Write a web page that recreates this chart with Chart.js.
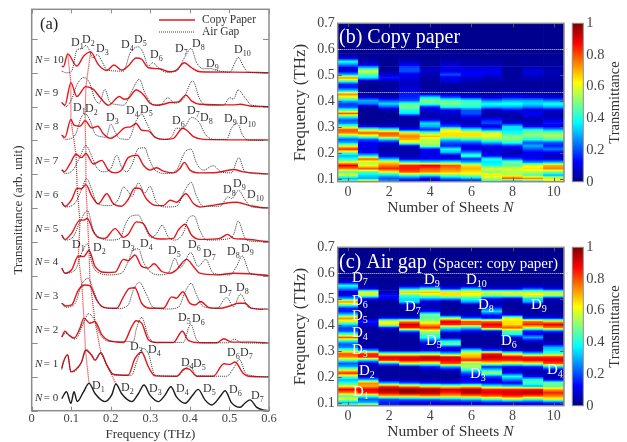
<!DOCTYPE html>
<html>
<head>
<meta charset="utf-8">
<title>Transmittance</title>
<script src="https://cdn.jsdelivr.net/npm/chart.js@4"></script>
<style>
  html, body { margin: 0; background: #fff; }
  #page { position: relative; width: 627px; height: 442px; overflow: hidden; }
  canvas { position: absolute; filter: blur(0.4px); }
</style>
</head>
<body>
<div id="page">
  <canvas id="panelA"></canvas>
  <canvas id="panelB"></canvas>
  <canvas id="barB"></canvas>
  <canvas id="panelC"></canvas>
  <canvas id="barC"></canvas>
</div>
<script>
// (a) spectra, pairs of [frequency THz, height above the N baseline]
const copy0 = [[.076,.36],[.088,.56],[.099,.22],[.107,.56],[.115,.27],[.131,.56],[.145,.81],[.16,.51],[.185,.27],[.202,.46],[.213,.79],[.227,.51],[.253,.27],[.27,.51],[.284,.76],[.299,.46],[.32,.27],[.337,.46],[.352,.71],[.366,.41],[.388,.22],[.407,.46],[.421,.63],[.438,.32],[.455,.17],[.476,.41],[.489,.59],[.505,.24],[.527,.1],[.539,.22],[.552,.32],[.569,.1],[.585,.02],[.6,0]];
const copy1 = [[.076,.25],[.08,.44],[.091,.66],[.099,.15],[.114,.25],[.126,.44],[.136,.79],[.152,.64],[.16,.49],[.175,.72],[.19,.35],[.206,.08],[.244,.05],[.261,.54],[.278,.73],[.295,.3],[.312,.03],[.366,.02],[.388,.25],[.4,.22],[.417,.02],[.459,.02],[.486,.39],[.501,.37],[.514,.44],[.535,.1],[.548,.02],[.6,0]];
const air1 = [[.076,.22],[.08,.41],[.091,.64],[.099,.15],[.115,.22],[.126,.44],[.139,.81],[.16,.51],[.173,.71],[.19,.35],[.211,.05],[.253,.05],[.265,.44],[.282,.84],[.295,.69],[.312,.05],[.366,.02],[.4,.32],[.417,.03],[.493,.02],[.51,.25],[.525,.52],[.543,.08],[.6,0]];
const copy2 = [[.076,.18],[.084,.35],[.093,.25],[.107,.15],[.122,.44],[.132,.74],[.147,.59],[.16,.64],[.177,.25],[.194,.08],[.232,.02],[.253,.49],[.264,.66],[.278,.59],[.295,.1],[.316,.02],[.358,.02],[.381,.35],[.396,.08],[.425,.01],[.468,.01],[.486,.13],[.505,.03],[.56,.03],[.6,0]];
const air2 = [[.076,.18],[.086,.3],[.093,.25],[.11,.12],[.131,.59],[.143,.87],[.156,.74],[.173,.25],[.198,.05],[.257,.05],[.265,.44],[.278,.76],[.295,.2],[.312,.02],[.383,.02],[.402,.56],[.417,.1],[.434,.01],[.497,.01],[.512,.12],[.531,.01],[.6,0]];
const copy3 = [[.076,.18],[.086,.1],[.101,.13],[.118,.57],[.135,.72],[.147,.7],[.164,.28],[.181,.06],[.215,.03],[.232,.37],[.247,.62],[.261,.64],[.278,.18],[.299,.03],[.333,.03],[.354,.37],[.366,.33],[.382,.52],[.4,.18],[.413,.13],[.427,.23],[.447,.06],[.476,.03],[.501,.1],[.522,.18],[.539,.18],[.556,.03],[.6,0]];
const air3 = [[.076,.18],[.086,.06],[.11,.18],[.126,.72],[.143,.92],[.156,.57],[.173,.13],[.215,.02],[.244,.13],[.257,.57],[.272,.8],[.291,.42],[.307,.06],[.341,.01],[.371,.06],[.388,.52],[.403,.77],[.417,.42],[.434,.08],[.468,.03],[.493,.35],[.51,.08],[.528,.45],[.548,.06],[.6,0]];
const copy4 = [[.076,.22],[.084,.07],[.101,.17],[.118,.58],[.131,.56],[.145,.74],[.16,.27],[.19,.09],[.211,.1],[.232,.48],[.244,.44],[.261,.61],[.278,.27],[.295,.22],[.309,.35],[.329,.12],[.35,.07],[.366,.17],[.392,.48],[.409,.27],[.425,.07],[.468,.02],[.51,.07],[.594,.01],[.6,0]];
const air4 = [[.076,.22],[.084,.07],[.11,.17],[.126,.66],[.141,.94],[.152,.37],[.164,.12],[.198,.02],[.227,.07],[.244,.41],[.257,.76],[.27,.79],[.282,.41],[.299,.12],[.324,.02],[.345,.07],[.362,.51],[.375,.22],[.383,.32],[.402,.68],[.421,.27],[.44,.48],[.459,.07],[.501,.02],[.518,.27],[.532,.58],[.552,.07],[.6,0]];
const copy5 = [[.076,.2],[.084,.07],[.101,.25],[.122,.64],[.131,.64],[.141,.69],[.156,.3],[.168,.13],[.185,.1],[.211,.39],[.232,.13],[.244,.22],[.265,.59],[.282,.54],[.299,.2],[.324,.08],[.358,.1],[.371,.35],[.388,.52],[.404,.2],[.425,.07],[.476,.1],[.495,.22],[.51,.1],[.535,.08],[.585,.02],[.6,0]];
const air5 = [[.076,.2],[.084,.05],[.105,.15],[.122,.59],[.141,.92],[.156,.34],[.168,.15],[.198,.05],[.224,.1],[.236,.49],[.249,.74],[.27,.79],[.282,.54],[.303,.12],[.316,.25],[.33,.49],[.345,.15],[.36,.05],[.383,.25],[.396,.69],[.41,.77],[.425,.34],[.442,.05],[.493,.08],[.51,.2],[.522,.61],[.539,.12],[.552,.02],[.6,0]];
const copy6 = [[.076,.17],[.084,.05],[.101,.25],[.115,.58],[.126,.57],[.137,.69],[.152,.35],[.168,.12],[.19,.42],[.206,.13],[.227,.05],[.244,.25],[.261,.59],[.274,.57],[.291,.25],[.316,.07],[.333,.07],[.35,.23],[.366,.17],[.39,.42],[.409,.13],[.425,.03],[.468,.1],[.518,.17],[.552,.07],[.594,0],[.6,0]];
const air6 = [[.076,.17],[.084,.03],[.11,.15],[.126,.54],[.139,.87],[.152,.54],[.166,.13],[.198,.07],[.219,.25],[.232,.62],[.244,.49],[.253,.34],[.27,.74],[.286,.44],[.299,.64],[.316,.15],[.341,.03],[.366,.05],[.388,.54],[.403,.76],[.417,.34],[.434,.05],[.476,.05],[.497,.33],[.505,.28],[.523,.52],[.539,.25],[.556,.03],[.6,0]];
const copy7 = [[.076,.14],[.082,.07],[.097,.31],[.112,.59],[.126,.49],[.137,.61],[.156,.3],[.177,.41],[.194,.12],[.211,.04],[.227,.12],[.244,.49],[.267,.56],[.282,.27],[.299,.12],[.316,.19],[.333,.09],[.358,.04],[.375,.17],[.386,.35],[.4,.12],[.425,.04],[.468,.05],[.51,.14],[.535,.07],[.594,.01],[.6,0]];
const air7 = [[.076,.12],[.084,.02],[.104,.12],[.122,.51],[.137,.85],[.149,.61],[.163,.22],[.181,.07],[.2,.17],[.215,.56],[.227,.22],[.24,.07],[.253,.27],[.27,.76],[.286,.78],[.295,.51],[.312,.12],[.341,.02],[.366,.12],[.388,.66],[.403,.74],[.417,.32],[.434,.12],[.459,.25],[.48,.06],[.505,.04],[.524,.49],[.539,.07],[.6,0]];
const copy8 = [[.076,.16],[.084,.09],[.099,.62],[.107,.45],[.122,.42],[.135,.58],[.152,.37],[.167,.42],[.181,.2],[.198,.06],[.215,.16],[.236,.38],[.25,.4],[.264,.5],[.278,.3],[.295,.28],[.312,.09],[.333,.03],[.358,.06],[.382,.36],[.392,.3],[.409,.11],[.434,.03],[.594,.01],[.6,0]];
const air8 = [[.076,.16],[.084,.03],[.11,.16],[.126,.7],[.136,.78],[.147,.6],[.16,.2],[.177,.11],[.188,.09],[.2,.48],[.211,.25],[.222,.06],[.244,.03],[.265,.6],[.278,.78],[.291,.5],[.307,.16],[.333,.03],[.354,.11],[.366,.36],[.383,.36],[.404,.68],[.424,.52],[.438,.2],[.459,.03],[.493,.03],[.505,.36],[.52,.5],[.533,.16],[.548,.01],[.6,0]];
const copy9 = [[.076,.12],[.084,.04],[.099,.71],[.114,.3],[.137,.59],[.156,.51],[.173,.27],[.194,.04],[.222,.3],[.233,.22],[.244,.24],[.264,.49],[.282,.36],[.299,.1],[.316,.04],[.333,.07],[.35,.12],[.371,.14],[.39,.34],[.404,.17],[.425,.07],[.51,.05],[.527,.07],[.552,.02],[.6,0]];
const air9 = [[.076,.12],[.086,0],[.101,.22],[.115,.66],[.132,.86],[.146,.71],[.16,.22],[.171,.1],[.185,.51],[.198,.12],[.211,.07],[.232,.04],[.253,.46],[.272,.81],[.286,.41],[.303,.1],[.324,.04],[.344,.26],[.362,.1],[.383,.22],[.407,.76],[.425,.22],[.442,.04],[.484,.04],[.501,.26],[.51,.22],[.522,.49],[.539,.27],[.556,.04],[.6,0]];
const copy10 = [[.076,.2],[.08,.18],[.091,.56],[.114,.2],[.131,.49],[.149,.62],[.168,.25],[.19,.07],[.208,.23],[.227,.08],[.244,.2],[.264,.44],[.278,.4],[.295,.15],[.323,.12],[.35,.03],[.366,.08],[.386,.3],[.404,.15],[.425,.03],[.51,.02],[.6,0]];
const air10 = [[.076,.05],[.088,0],[.101,.05],[.115,.69],[.126,.71],[.137,.81],[.147,.64],[.154,.44],[.166,.54],[.177,.35],[.191,.08],[.232,.05],[.249,.59],[.27,.77],[.282,.59],[.295,.2],[.306,.3],[.32,.15],[.341,.02],[.366,.05],[.386,.44],[.403,.72],[.417,.3],[.434,.12],[.451,.13],[.468,.07],[.501,.02],[.514,.3],[.522,.46],[.535,.2],[.548,.02],[.6,0]];

const copyCurves = [copy0, copy1, copy2, copy3, copy4, copy5, copy6, copy7, copy8, copy9, copy10];
const airCurves = [null, air1, air2, air3, air4, air5, air6, air7, air8, air9, air10];

// peak traces, pairs of [frequency, N + height]
const traceD1 = [[.145,.81],[.136,1.79],[.132,2.74],[.127,3.7],[.118,4.58],[.122,5.6],[.115,6.58],[.112,7.59],[.099,8.62],[.099,9.71],[.091,10.56]];
const traceD2 = [[.213,.79],[.175,1.72],[.16,2.64],[.147,3.9],[.145,4.74],[.141,5.69],[.137,6.69],[.137,7.61],[.135,8.58],[.137,9.59],[.149,10.62]];

// (b) and (c) maps, one list per N, rows run from 0.09 THz up in steps of 0.0125 THz
const rowStart = 0.09;
const rowStep = 0.0125;
const sheets = [0, 1, 2, 3, 4, 5, 6, 7, 8, 9, 10];
const topBandValue = 0.015;

const sheet0 = [.5,.3,.6,.45,.75,.9,.6,.4,.3,.5, .85,.6,.3,.2,.45,.75,.8,.5,.25,.2, .4,.8,.45,.2,.18,.35,.6,.75,.35,.15, .15,.45,.75,.3,.1,.08,.25,.4,.1,.04, .02];
const copyN1 = [.75,.3,.35,.45,.8,.6,.55,.8,.35,.12, .1,.1,.12,.2,.55,.8,.55,.1,.03,.02, .02,.02,.02,.03,.25,.3,.08,.03,.02,.02, .02,.05,.35,.45,.6,.35,.1,.05,.03,.02, .02];
const copyN2 = [.3,.2,.35,.6,.85,.75,.65,.3,.08,.05, .04,.05,.1,.35,.75,.8,.45,.08,.03,.03, .02,.02,.04,.2,.35,.2,.05,.03,.03,.03, .03,.05,.15,.08,.03,.02,.02,.02,.02,.02, .02];
const copyN3 = [.1,.2,.45,.8,.85,.85,.4,.1,.05,.04, .04,.08,.55,.7,.75,.65,.15,.05,.03,.03, .05,.35,.4,.5,.45,.2,.15,.15,.1,.08, .06,.08,.1,.1,.2,.2,.12,.06,.03,.02, .02];
const copyN4 = [.08,.12,.4,.75,.8,.9,.35,.12,.1,.1, .12,.5,.55,.55,.7,.5,.15,.3,.35,.12, .05,.05,.08,.15,.45,.5,.35,.08,.04,.03, .03,.03,.04,.05,.08,.05,.03,.03,.02,.02, .02];
const copyN5 = [.1,.25,.5,.7,.75,.8,.4,.1,.08,.3, .4,.15,.2,.35,.65,.65,.6,.2,.1,.05, .05,.08,.1,.4,.5,.45,.2,.06,.03,.03, .03,.1,.1,.2,.1,.1,.08,.05,.03,.02, .02];
const copyN6 = [.1,.3,.55,.65,.7,.65,.3,.15,.45,.25, .1,.1,.2,.4,.65,.65,.4,.12,.07,.05, .12,.2,.2,.4,.45,.4,.12,.05,.03,.03, .04,.05,.08,.12,.12,.08,.05,.04,.03,.02, .02];
const copyN7 = [.4,.55,.65,.5,.6,.4,.35,.4,.12,.1, .08,.12,.3,.5,.6,.6,.25,.08,.2,.15, .05,.04,.06,.3,.4,.25,.08,.03,.03,.03, .03,.04,.05,.1,.12,.08,.05,.03,.02,.02, .02];
const copyN8 = [.15,.8,.55,.55,.6,.45,.5,.2,.08,.05, .08,.15,.4,.5,.5,.4,.35,.35,.1,.05, .04,.05,.12,.3,.4,.3,.12,.06,.03,.03, .03,.03,.03,.03,.03,.03,.03,.02,.02,.02, .02];
const copyN9 = [.3,.75,.45,.55,.65,.6,.25,.12,.1,.12, .2,.3,.2,.4,.5,.5,.4,.12,.06,.05, .08,.12,.08,.25,.35,.3,.1,.04,.03,.03, .03,.03,.05,.08,.1,.05,.03,.03,.02,.02, .02];
const copyN10 = [.55,.65,.3,.5,.75,.7,.3,.08,.06,.12, .25,.15,.2,.45,.55,.5,.3,.1,.15,.1, .05,.05,.08,.3,.4,.25,.08,.04,.03,.03, .03,.03,.04,.05,.05,.04,.03,.03,.02,.02, .02];
const copyMap = [sheet0, copyN1, copyN2, copyN3, copyN4, copyN5, copyN6, copyN7, copyN8, copyN9, copyN10];

const airN1 = [.65,.3,.2,.45,.85,.9,.7,.75,.3,.06, .04,.04,.05,.08,.35,.85,.85,.3,.04,.03, .03,.03,.03,.03,.03,.1,.15,.03,.03,.03, .03,.03,.03,.15,.55,.6,.1,.04,.03,.02, .02];
const airN2 = [.15,.15,.2,.7,.9,.98,.8,.3,.05,.03, .03,.03,.04,.3,.85,.9,.5,.06,.03,.03, .03,.03,.03,.03,.1,.65,.6,.1,.03,.03, .03,.03,.03,.1,.15,.05,.03,.03,.02,.02, .02];
const airN3 = [.08,.1,.25,.7,.98,1,.7,.2,.04,.03, .03,.03,.05,.6,.9,.9,.5,.05,.03,.03, .03,.03,.04,.25,.85,.92,.7,.1,.04,.04, .04,.05,.35,.35,.45,.7,.3,.06,.03,.02, .02];
const airN4 = [.08,.1,.25,.75,.95,.98,.6,.15,.04,.03, .03,.05,.15,.55,.9,.95,.5,.1,.05,.08, .2,.4,.45,.55,.85,.7,.55,.45,.5,.15, .05,.06,.08,.3,.55,.7,.4,.08,.03,.02, .02];
const airN5 = [.08,.1,.3,.7,.85,.92,.55,.12,.04,.03, .03,.08,.3,.8,.9,.9,.35,.08,.12,.5, .35,.05,.04,.2,.4,.85,.9,.5,.06,.03, .03,.03,.03,.3,.65,.65,.15,.04,.03,.02, .02];
const airN6 = [.1,.12,.35,.75,.95,.95,.6,.15,.1,.12, .2,.4,.55,.5,.85,.7,.65,.4,.05,.03, .03,.03,.04,.12,.35,.8,.8,.2,.06,.05, .04,.04,.3,.4,.6,.65,.3,.05,.03,.02, .02];
const airN7 = [.1,.15,.45,.8,.9,.85,.4,.12,.1,.2, .55,.35,.15,.6,.85,.95,.85,.2,.05,.03, .03,.03,.04,.1,.8,.9,.75,.1,.15,.35, .2,.05,.05,.15,.5,.6,.1,.04,.03,.02, .02];
const airN8 = [.08,.15,.55,.85,.92,.85,.35,.1,.25,.4, .15,.06,.12,.55,.85,.9,.55,.1,.04,.03, .04,.1,.4,.45,.8,.65,.65,.6,.1,.03, .03,.03,.03,.1,.55,.6,.1,.04,.03,.02, .02];
const airN9 = [.08,.15,.45,.8,.95,.85,.3,.45,.4,.12, .05,.05,.15,.6,.9,.85,.35,.06,.03,.03, .1,.3,.12,.15,.6,.85,.75,.1,.05,.03, .03,.03,.3,.35,.65,.55,.2,.04,.03,.02, .02];
const airN10 = [.08,.2,.6,.75,.85,.7,.45,.5,.1,.05, .05,.1,.35,.8,.9,.85,.45,.35,.3,.08, .04,.03,.04,.2,.75,.9,.65,.1,.05,.03, .03,.03,.04,.08,.55,.55,.1,.04,.03,.02, .02];
const airMap = [sheet0, airN1, airN2, airN3, airN4, airN5, airN6, airN7, airN8, airN9, airN10];

// "D" marks: subscript, then page x and baseline y
const labelsA = [
  ["1",71,46],["2",82,43],["3",96,52],["4",121,48],["5",134,43],["6",150,58],["7",175,52],["8",192,47],["9",206,67],["10",234,53],
  ["1",73,111],["2",85,112],["3",106,121],["4",126,114],["5",140,113],["6",172,124],["7",187,114],["8",200,121],["9",224,122],["10",239,124],
  ["8",223,193],["9",233,187],["10",247,198],
  ["1",72,248],["2",93,251],["3",122,248],["4",140,247],["5",168,254],["6",188,248],["7",203,257],["8",227,255],["9",241,252],
  ["7",219,293],["8",236,291],["5",178,321],["6",192,322],
  ["3",130,350],["4",148,353],["4",181,366],["5",193,367],["6",227,356],["7",240,356],
  ["1",92,389],["2",121,391],["3",149,392],["4",176,392],["5",203,392],["6",229,393],["7",251,399]
];
const labelsC = [
  ["7",352,282],["6",352,305],["5",352,320],["4",352,337],["3",352,354],["2",359,375],["1",353,396],
  ["9",424,284],["10",466,284],["7",405,311],["8",478,309],["9",531,309],["5",426,345],["6",501,345],["3",470,378],["4",547,374]
];

const serif = "'Liberation Serif', 'Times New Roman', serif";
const axisGray = "#8c8c8c";
const tickText = "#444";

function jet(v) {
  const ramp = (c) => Math.round(255 * Math.min(1, Math.max(0, 1.5 - Math.abs(4 * v - c))));
  return "rgb(" + ramp(3) + "," + ramp(2) + "," + ramp(1) + ")";
}

// puts the canvas on the page and fixes the plot area to the given box
function setupCanvas(id, frame) {
  const el = document.getElementById(id);
  el.width = frame.w;
  el.height = frame.h;
  el.style.left = frame.x + "px";
  el.style.top = frame.y + "px";
  return el;
}
function areaPadding(frame, area) {
  return { top: area.top - frame.y, right: frame.x + frame.w - area.right, left: 0, bottom: 0 };
}
function fitWidth(frame, area) {
  return (scale) => { scale.width = area.left - frame.x; };
}
function fitWidthRight(frame, area) {
  return (scale) => { scale.width = frame.x + frame.w - area.right; };
}
function fitHeight(frame, area) {
  return (scale) => { scale.height = frame.y + frame.h - area.bottom; };
}

function drawD(ctx, frame, label, size, color) {
  const x = label[1] - frame.x;
  const y = label[2] - frame.y;
  ctx.fillStyle = color;
  ctx.textAlign = "left";
  ctx.textBaseline = "alphabetic";
  ctx.font = size + "px " + serif;
  ctx.fillText("D", x, y);
  const w = ctx.measureText("D").width;
  ctx.font = Math.round(size * 0.68) + "px " + serif;
  ctx.fillText(label[0], x + w, y + 3);
}

function drawBoxAndTicks(chart, len, color) {
  const ctx = chart.ctx;
  const a = chart.chartArea;
  ctx.save();
  ctx.strokeStyle = color;
  ctx.lineWidth = 1;
  const y = chart.scales.y;
  y.ticks.forEach((t) => {
    const p = Math.round(y.getPixelForValue(t.value)) + 0.5;
    ctx.beginPath();
    ctx.moveTo(a.left, p);
    ctx.lineTo(a.left + len, p);
    ctx.moveTo(a.right, p);
    ctx.lineTo(a.right - len, p);
    ctx.stroke();
  });
  const x = chart.scales.x;
  x.ticks.forEach((t, i) => {
    if (t.label === "") return;
    const p = Math.round(x.getPixelForTick(i)) + 0.5;
    ctx.beginPath();
    ctx.moveTo(p, a.bottom);
    ctx.lineTo(p, a.bottom - Math.min(len, 4));
    ctx.moveTo(p, a.top);
    ctx.lineTo(p, a.top + Math.min(len, 4));
    ctx.stroke();
  });
  ctx.strokeStyle = axisGray;
  ctx.lineWidth = 1.5;
  ctx.strokeRect(a.left, a.top, a.right - a.left, a.bottom - a.top);
  ctx.restore();
}

// ---------- panel (a)
const frameA = { x: 0, y: 0, w: 292, h: 442 };
const areaA = { left: 31.7, right: 269, top: 9.3, bottom: 410.7 };
const baselines = [0, 1, 2, 3, 4, 5, 6, 7, 8, 9, 10, 11];

function curve(points, n) {
  return points.map((p) => ({ x: p[0], y: n + p[1] }));
}

const datasetsA = [];
airCurves.forEach((points, n) => {
  if (!points) return;
  datasetsA.push({ data: curve(points, n), borderColor: "#333", borderWidth: 1, borderDash: [1, 1], cubicInterpolationMode: "monotone" });
});
[traceD1, traceD2].forEach((points) => {
  datasetsA.push({ data: curve(points, 0), borderColor: "#e01818", borderWidth: 1.2, borderDash: [1, 1], tension: 0 });
});
copyCurves.forEach((points, n) => {
  datasetsA.push({ data: curve(points, n), borderColor: n === 0 ? "#1a1a1a" : "#e8141c", borderWidth: 1.4, cubicInterpolationMode: "monotone" });
});

const textA = {
  id: "textA",
  afterDraw(chart) {
    const ctx = chart.ctx;
    const y = chart.scales.y;
    drawBoxAndTicks(chart, 6, axisGray);
    ctx.save();
    ctx.fillStyle = "#222";
    ctx.font = "16.5px " + serif;
    ctx.textAlign = "left";
    ctx.textBaseline = "alphabetic";
    ctx.fillText("(a)", 40, 29);
    // legend
    ctx.strokeStyle = "#e8141c";
    ctx.lineWidth = 1.5;
    ctx.beginPath(); ctx.moveTo(159, 20); ctx.lineTo(195, 20); ctx.stroke();
    ctx.strokeStyle = "#333";
    ctx.lineWidth = 1;
    ctx.setLineDash([1, 1]);
    ctx.beginPath(); ctx.moveTo(159, 32); ctx.lineTo(195, 32); ctx.stroke();
    ctx.setLineDash([]);
    ctx.font = "11.5px " + serif;
    ctx.fillStyle = "#333";
    ctx.fillText("Copy Paper", 202, 23);
    ctx.fillText("Air Gap", 202, 35);
    // N = labels
    baselines.slice(0, 11).forEach((n) => {
      const py = y.getPixelForValue(n + 0.3);
      ctx.fillStyle = "#333";
      ctx.font = "italic 11px " + serif;
      ctx.fillText("N", 35, py);
      const w = ctx.measureText("N").width;
      ctx.font = "11px " + serif;
      ctx.fillText("= " + n, 35 + w + 1.5, py);
    });
    labelsA.forEach((l) => drawD(ctx, frameA, l, 12, "#333"));
    ctx.restore();
  }
};

new Chart(setupCanvas("panelA", frameA), {
  type: "scatter",
  data: { datasets: datasetsA },
  options: {
    responsive: false,
    animation: false,
    showLine: true,
    layout: { padding: areaPadding(frameA, areaA) },
    elements: { point: { radius: 0 } },
    plugins: { legend: { display: false }, tooltip: { enabled: false } },
    scales: {
      x: {
        type: "linear", min: 0, max: 0.6,
        grid: { display: false, drawTicks: false },
        border: { display: false },
        ticks: { stepSize: 0.1, color: tickText, font: { family: serif, size: 12.5 }, padding: 1, maxRotation: 0,
          callback: (v) => (v === 0 ? "0" : v.toFixed(1)) },
        title: { display: true, text: "Frequency (THz)", color: "#333", font: { family: serif, size: 13 }, padding: { top: 0, bottom: 0 } },
        afterFit: fitHeight(frameA, areaA)
      },
      y: {
        type: "linear", min: 0, max: 11.88,
        grid: { display: false, drawTicks: false },
        border: { display: false },
        ticks: { display: false },
        afterBuildTicks: (scale) => { scale.ticks = baselines.map((v) => ({ value: v })); },
        title: { display: true, text: "Transmittance (arb. unit)", color: "#333", font: { family: serif, size: 13 }, padding: { top: 11, bottom: 0 } },
        afterFit: fitWidth(frameA, areaA)
      }
    }
  },
  plugins: [textA]
});

// ---------- panels (b) and (c)
const freqTicks = [0.1, 0.2, 0.3, 0.4, 0.5, 0.6, 0.7];

// each cell fades into its neighbours above and below, like the shaded original
function rowShade(map, r) {
  return (c) => {
    if (c.dataIndex === undefined || !c.chart.scales.y) return jet(map[0][r]);
    const col = map[c.dataIndex];
    const mid = col[r];
    const below = r > 0 ? col[r - 1] : mid;
    const above = r < col.length - 1 ? col[r + 1] : topBandValue;
    const center = rowStart + r * rowStep;
    const y = c.chart.scales.y;
    const y0 = y.getPixelForValue(center - rowStep / 2);
    const y1 = y.getPixelForValue(center + rowStep / 2);
    if (!isFinite(y0) || !isFinite(y1)) return jet(mid);
    const g = c.chart.ctx.createLinearGradient(0, y0, 0, y1);
    g.addColorStop(0, jet((below + mid) / 2));
    g.addColorStop(0.25, jet((below + 3 * mid) / 4));
    g.addColorStop(0.5, jet(mid));
    g.addColorStop(0.75, jet((above + 3 * mid) / 4));
    g.addColorStop(1, jet((above + mid) / 2));
    return g;
  };
}

function mapDatasets(map) {
  const out = [];
  map[0].forEach((_, r) => {
    const center = rowStart + r * rowStep;
    const low = center - rowStep / 2;
    const high = center + rowStep / 2;
    out.push({
      data: sheets.map(() => [low, high]),
      backgroundColor: rowShade(map, r),
      borderWidth: 0, barPercentage: 1, categoryPercentage: 1, grouped: false
    });
  });
  // everything above the last row stays at the background level
  const top = rowStart + (map[0].length - 0.5) * rowStep;
  out.push({
    data: sheets.map(() => [top, 0.7]),
    backgroundColor: jet(topBandValue),
    borderWidth: 0, barPercentage: 1, categoryPercentage: 1, grouped: false
  });
  return out;
}

function whiteDotted(chart, freq) {
  const ctx = chart.ctx;
  const a = chart.chartArea;
  const p = Math.round(chart.scales.y.getPixelForValue(freq)) + 0.5;
  ctx.save();
  ctx.strokeStyle = "rgba(255,255,255,0.85)";
  ctx.setLineDash([1, 1]);
  ctx.lineWidth = 1;
  ctx.beginPath();
  ctx.moveTo(a.left, p);
  ctx.lineTo(a.right, p);
  ctx.stroke();
  ctx.restore();
}

function sheetsTitle(chart, area, frame) {
  const ctx = chart.ctx;
  ctx.save();
  ctx.fillStyle = "#333";
  ctx.textAlign = "left";
  ctx.textBaseline = "alphabetic";
  const py = area.bottom + 30 - frame.y;
  ctx.font = "15.5px " + serif;
  const part = "Number of Sheets ";
  const w = ctx.measureText(part + "N").width;
  const x0 = (area.left + area.right) / 2 - w / 2 - frame.x;
  ctx.fillText(part, x0, py);
  const pw = ctx.measureText(part).width;
  ctx.font = "italic 15.5px " + serif;
  ctx.fillText("N", x0 + pw, py);
  ctx.restore();
}

function makeMap(id, barId, map, frame, area, drawExtras) {
  const barFrame = { x: 565, y: frame.y, w: 62, h: frame.h };
  const barArea = { left: 572.3, right: 583.3, top: area.top, bottom: area.bottom };

  new Chart(setupCanvas(id, frame), {
    type: "bar",
    data: { labels: sheets, datasets: mapDatasets(map) },
    options: {
      responsive: false,
      animation: false,
      layout: { padding: areaPadding(frame, area) },
      plugins: { legend: { display: false }, tooltip: { enabled: false } },
      scales: {
        x: {
          type: "category",
          grid: { display: false, drawTicks: false },
          border: { display: false },
          ticks: { autoSkip: false, maxRotation: 0, padding: 2, color: tickText, font: { family: serif, size: 14 },
            callback: (v, i) => (i % 2 === 0 ? String(sheets[i]) : "") },
          afterFit: fitHeight(frame, area)
        },
        y: {
          type: "linear", min: 0.09, max: 0.7,
          grid: { display: false, drawTicks: false },
          border: { display: false },
          afterBuildTicks: (scale) => { scale.ticks = freqTicks.map((v) => ({ value: v })); },
          ticks: { color: tickText, padding: 3, font: { family: serif, size: 14 }, callback: (v) => Number(v).toFixed(1) },
          title: { display: true, text: "Frequency (THz)", color: "#333", font: { family: serif, size: 17 }, padding: { top: 0, bottom: 2 } },
          afterFit: fitWidth(frame, area)
        }
      }
    },
    plugins: [{
      id: "mapText",
      afterDraw(chart) {
        drawBoxAndTicks(chart, 4, "#555");
        sheetsTitle(chart, area, frame);
        drawExtras(chart);
      }
    }]
  });

  new Chart(setupCanvas(barId, barFrame), {
    type: "bar",
    data: {
      labels: [""],
      datasets: [{
        data: [[0, 1]],
        borderWidth: 0, barPercentage: 1, categoryPercentage: 1,
        backgroundColor: (c) => {
          const a = c.chart.chartArea;
          if (!a) return "#000";
          const g = c.chart.ctx.createLinearGradient(0, a.bottom, 0, a.top);
          [0, 0.125, 0.375, 0.625, 0.875, 1].forEach((s) => g.addColorStop(s, jet(s)));
          return g;
        }
      }]
    },
    options: {
      responsive: false,
      animation: false,
      layout: { padding: { top: barArea.top - barFrame.y, left: barArea.left - barFrame.x, right: 0, bottom: 0 } },
      plugins: { legend: { display: false }, tooltip: { enabled: false } },
      scales: {
        x: { grid: { display: false, drawTicks: false }, border: { display: false }, ticks: { display: false }, afterFit: fitHeight(barFrame, barArea) },
        y: {
          position: "right", min: 0, max: 1,
          grid: { display: false, drawTicks: false },
          border: { display: false },
          ticks: { stepSize: 0.2, color: tickText, padding: 3, font: { family: serif, size: 14.5 },
            callback: (v) => (v === 0 || v === 1 ? String(v) : Number(v).toFixed(1)) },
          afterFit: fitWidthRight(barFrame, barArea)
        }
      }
    },
    plugins: [{
      id: "barTitle",
      afterDraw(chart) {
        const ctx = chart.ctx;
        const a = chart.chartArea;
        ctx.save();
        ctx.strokeStyle = axisGray;
        ctx.lineWidth = 1;
        ctx.strokeRect(a.left, a.top, a.right - a.left, a.bottom - a.top);
        ctx.translate(50, (a.top + a.bottom) / 2);
        ctx.rotate(-Math.PI / 2);
        ctx.fillStyle = "#333";
        ctx.textAlign = "center";
        ctx.textBaseline = "middle";
        ctx.font = "14.5px " + serif;
        ctx.fillText("Transmittance", 0, 0);
        ctx.restore();
      }
    }]
  });
}

const frameB = { x: 290, y: 0, w: 280, h: 222 };
const areaB = { left: 337.7, right: 564, top: 23.3, bottom: 181.7 };
const frameC = { x: 290, y: 222, w: 280, h: 220 };
const areaC = { left: 337.7, right: 564, top: 247.3, bottom: 405.7 };

makeMap("panelB", "barB", copyMap, frameB, areaB, (chart) => {
  whiteDotted(chart, 0.6);
  whiteDotted(chart, 0.435);
  const ctx = chart.ctx;
  ctx.save();
  ctx.fillStyle = "#fff";
  ctx.textAlign = "left";
  ctx.textBaseline = "alphabetic";
  ctx.font = "20px " + serif;
  ctx.fillText("(b) Copy paper", 339 - frameB.x, 43 - frameB.y);
  ctx.restore();
});

makeMap("panelC", "barC", airMap, frameC, areaC, (chart) => {
  whiteDotted(chart, 0.6);
  const ctx = chart.ctx;
  ctx.save();
  ctx.fillStyle = "#fff";
  ctx.textAlign = "left";
  ctx.textBaseline = "alphabetic";
  ctx.font = "20px " + serif;
  ctx.fillText("(c) Air gap", 339 - frameC.x, 268 - frameC.y);
  ctx.font = "15px " + serif;
  ctx.fillText("(Spacer: copy paper)", 433 - frameC.x, 268 - frameC.y);
  labelsC.forEach((l) => drawD(ctx, frameC, l, 15, "#fff"));
  ctx.restore();
});
</script>
</body>
</html>
